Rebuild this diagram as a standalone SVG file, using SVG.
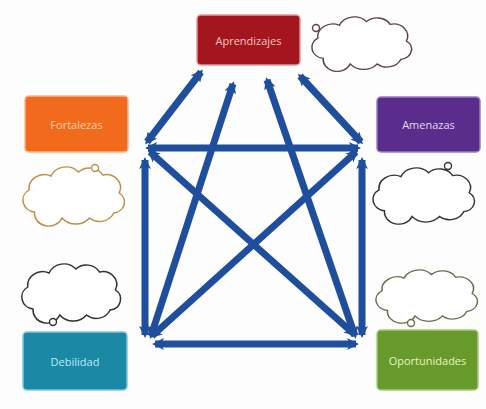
<svg xmlns="http://www.w3.org/2000/svg" width="486" height="409" viewBox="0 0 486 409">
<style>
.box{stroke-width:1.5}
.lbl{font-family:"Open Sans","Liberation Sans",sans-serif;font-size:11px;text-anchor:middle;dominant-baseline:central}
.cl{fill:#fff;stroke-width:1.4}
.ar{stroke:#1f4f9c;stroke-width:7;fill:none;stroke-linecap:butt;marker-start:url(#ah);marker-end:url(#ah)}
</style>
<defs>
<marker id="ah" viewBox="0 0 12 12" refX="9" refY="6" markerWidth="12" markerHeight="12" markerUnits="userSpaceOnUse" orient="auto-start-reverse">
<path d="M0,0 L12,6 L0,12 L3,6 z" fill="#1f4f9c"/>
</marker>
<path id="cloud" d="M15,45 a12,12 0 0 1 -5,-22 a14,14 0 0 1 20,-14 a15,15 0 0 1 25,-4 a14,14 0 0 1 22,3 a13,13 0 0 1 15,18 a11,11 0 0 1 -5,20 a14,14 0 0 1 -22,5 a16,16 0 0 1 -25,0 a13,13 0 0 1 -25,-6 z"/>
</defs>
<rect width="486" height="409" fill="#fdfdfd"/>

<g id="connectors">
<line class="ar" x1="148" y1="148" x2="358" y2="148"/>
<line class="ar" x1="145" y1="160" x2="145" y2="335"/>
<line class="ar" x1="362" y1="160" x2="362" y2="335"/>
<line class="ar" x1="155" y1="344" x2="356" y2="344"/>
<line class="ar" x1="150" y1="152" x2="354" y2="334"/>
<line class="ar" x1="356" y1="152" x2="152" y2="336"/>
<line class="ar" x1="147" y1="142" x2="201" y2="72"/>
<line class="ar" x1="151" y1="336" x2="233" y2="84"/>
<line class="ar" x1="355" y1="336" x2="267" y2="80"/>
<line class="ar" x1="361" y1="142" x2="300" y2="76"/>
</g>

<g id="aprendizajes">
<rect class="box" x="197" y="15" width="103" height="50" rx="4" fill="#a3161d" stroke="#d99"/>
<text class="lbl" x="248.5" y="40" fill="#f7c2c2">Aprendizajes</text>
</g>
<g id="nube-aprendizajes">
<use href="#cloud" class="cl" stroke="#5a4444" transform="translate(307,17) scale(1.08,0.92)"/>
<circle cx="316" cy="28" r="3.5" class="cl" stroke="#5a4444"/>
</g>

<g id="fortalezas">
<rect class="box" x="25" y="96" width="103" height="56" rx="4" fill="#f26a1b" stroke="#f9b48a"/>
<text class="lbl" x="76.5" y="124" fill="#fdd4b0">Fortalezas</text>
</g>
<g id="nube-fortalezas">
<use href="#cloud" class="cl" stroke="#c09048" transform="translate(18,167) scale(1.1,1.0)"/>
<circle cx="95" cy="168" r="3.5" class="cl" stroke="#c09048"/>
</g>

<g id="amenazas">
<rect class="box" x="377" y="97" width="103" height="55" rx="4" fill="#5a2c8c" stroke="#9a7cc0"/>
<text class="lbl" x="428.5" y="124.5" fill="#e2daf0">Amenazas</text>
</g>
<g id="nube-amenazas">
<use href="#cloud" class="cl" stroke="#333" transform="translate(368,168) scale(1.1,0.95)"/>
<circle cx="448" cy="166" r="3.5" class="cl" stroke="#333"/>
</g>

<g id="nube-debilidad">
<use href="#cloud" class="cl" stroke="#333" transform="translate(17,264) scale(1.07,1.0)"/>
<circle cx="53" cy="322" r="3.5" class="cl" stroke="#333"/>
</g>
<g id="debilidad">
<rect class="box" x="23" y="332" width="104" height="58" rx="4" fill="#1b88a6" stroke="#7cc7da"/>
<text class="lbl" x="75" y="361" fill="#b8ecf8">Debilidad</text>
</g>

<g id="nube-oportunidades">
<use href="#cloud" class="cl" stroke="#6e6e52" transform="translate(371,270) scale(1.1,0.9)"/>
<circle cx="411" cy="323" r="3.5" class="cl" stroke="#6e6e52"/>
</g>
<g id="oportunidades">
<rect class="box" x="377" y="330" width="101" height="60" rx="4" fill="#679a2a" stroke="#a9cc7e"/>
<text class="lbl" x="427.5" y="360" fill="#e6f4c0">Oportunidades</text>
</g>
</svg>
